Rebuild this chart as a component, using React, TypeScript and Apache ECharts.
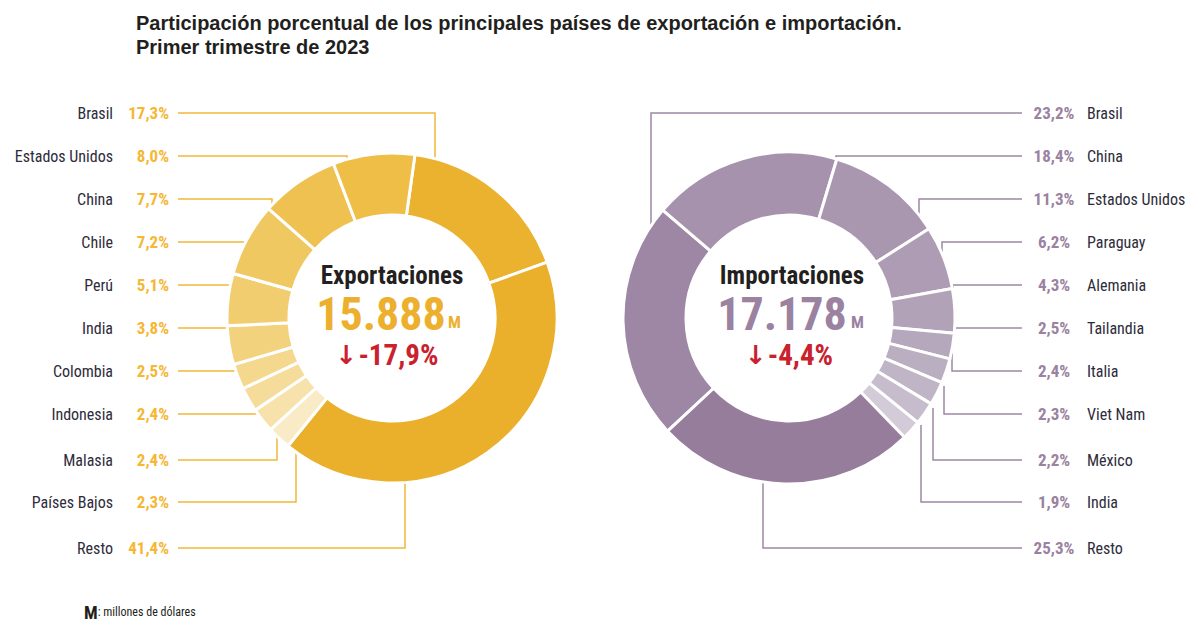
import React, { useEffect, useRef } from "react";
import * as echarts from "echarts";

// ---------- data ----------
const expNames = ["Brasil", "Resto", "Países Bajos", "Malasia", "Indonesia", "Colombia", "India", "Perú", "Chile", "China", "Estados Unidos"];
const expValues = [17.3, 41.4, 2.3, 2.4, 2.4, 2.5, 3.8, 5.1, 7.2, 7.7, 8.0];
const expLabelOrder = ["Brasil", "Estados Unidos", "China", "Chile", "Perú", "India", "Colombia", "Indonesia", "Malasia", "Países Bajos", "Resto"];

const impNames = ["Brasil", "China", "Estados Unidos", "Paraguay", "Alemania", "Tailandia", "Italia", "Viet Nam", "México", "India", "Resto"];
const impValues = [23.2, 18.4, 11.3, 6.2, 4.3, 2.5, 2.4, 2.3, 2.2, 1.9, 25.3];
const impLabelOrder = ["Brasil", "China", "Estados Unidos", "Paraguay", "Alemania", "Tailandia", "Italia", "Viet Nam", "México", "India", "Resto"];

const expTotal = "15.888";
const expChange = "-17,9%";
const impTotal = "17.178";
const impChange = "-4,4%";

// ---------- styles / layout ----------
const expColors = ["#EBB22F", "#EAB02B", "#F8EBC6", "#F6E2AA", "#F5DC9A", "#F4D88D", "#F3D27E", "#F2CD70", "#F0C862", "#EFC150", "#EEBE47"];
const impColors = ["#9E87A4", "#A692AC", "#A996AF", "#AD9CB3", "#B1A2B8", "#B6A8BC", "#BAAEC1", "#C0B5C6", "#C6BCCB", "#D4CBD8", "#977D9C"];
const rowY = [113, 156, 199, 242, 285, 328, 371, 414, 460, 502, 548];
const expBendX = [435, 347, 272, 256, 237, 232, 246, 261, 277, 296, 405];
const expEndY = [162, 175, 213, 242, 297, 340, 382, 414, 433, 448, 482];
const impBendX = [651, 836, 919, 942, 953, 945, 952, 944, 933, 921, 763];
const impEndY = [255, 185, 243, 292, 307, 328, 353, 386, 408, 425, 482];

const NARROW = "'Liberation Sans Narrow', 'Roboto Condensed', 'Arial Narrow', 'Liberation Sans', sans-serif";
const GOLD_TXT = "#F5B734";
const PURPLE_TXT = "#9A82A0";
const NAME_TXT = "#2D2C3A";
const RED = "#C9222E";

const fmtPct = (v: number) => v.toFixed(1).replace(".", ",") + "%";

export default function App() {
  const ref = useRef<HTMLDivElement>(null);
  useEffect(() => {
    document.body.style.margin = "0";
    const chart = echarts.init(ref.current!, null, { renderer: "svg" });

    const changeText = (x: number, val: string) => ({
      type: "text", x, y: 355,
      style: {
        text: `{a|↓}{v|${val}}`, textAlign: "center", textVerticalAlign: "middle",
        rich: {
          a: { fontFamily: "'DejaVu Sans', sans-serif", fontWeight: "bold", fontSize: 26, fill: RED, padding: [0, 1, 0, 0] },
          v: { fontFamily: NARROW, fontWeight: "bold", fontSize: 29, fill: RED },
        },
      },
    });

    const option: any = {
      animation: false,
      backgroundColor: "#ffffff",
      graphic: [
        {
          type: "text", left: 136, top: 11,
          style: {
            text: "Participación porcentual de los principales países de exportación e importación.\nPrimer trimestre de 2023",
            fontFamily: "'Liberation Sans', Arial, sans-serif", fontWeight: "bold", fontSize: 20, lineHeight: 24, fill: "#231F20",
          },
        },
        // exports center
        { type: "text", x: 392, y: 275, style: { text: "Exportaciones", textAlign: "center", textVerticalAlign: "middle", fontFamily: NARROW, fontWeight: "bold", fontSize: 25, fill: "#231F20" } },
        { type: "text", x: 381, y: 314, style: { text: expTotal, textAlign: "center", textVerticalAlign: "middle", fontFamily: NARROW, fontWeight: "bold", fontSize: 46, fill: "#ECB02E" } },
        { type: "text", x: 448, y: 330, style: { text: "M", textAlign: "left", textVerticalAlign: "bottom", fontFamily: NARROW, fontWeight: "bold", fontSize: 17, fill: "#ECB02E" } },
        changeText(387, expChange),
        // imports center
        { type: "text", x: 792, y: 275, style: { text: "Importaciones", textAlign: "center", textVerticalAlign: "middle", fontFamily: NARROW, fontWeight: "bold", fontSize: 25, fill: "#231F20" } },
        { type: "text", x: 782, y: 314, style: { text: impTotal, textAlign: "center", textVerticalAlign: "middle", fontFamily: NARROW, fontWeight: "bold", fontSize: 46, fill: "#9A82A0" } },
        { type: "text", x: 851, y: 330, style: { text: "M", textAlign: "left", textVerticalAlign: "bottom", fontFamily: NARROW, fontWeight: "bold", fontSize: 17, fill: "#9A82A0" } },
        changeText(789, impChange),
        // footnote
        {
          type: "text", x: 84, y: 612,
          style: {
            text: "{b|M}{t|: millones de dólares}", textVerticalAlign: "middle",
            rich: {
              b: { fontFamily: NARROW, fontWeight: "bold", fontSize: 18, fill: "#231F20" },
              t: { fontFamily: NARROW, fontSize: 12, fill: "#231F20" },
            },
          },
        },
      ],
      series: [
        {
          type: "pie",
          center: [392, 318],
          radius: [103, 165],
          startAngle: 82,
          clockwise: true,
          avoidLabelOverlap: false,
          emphasis: { disabled: true },
          itemStyle: { borderColor: "#ffffff", borderWidth: 3 },
          data: expNames.map((n, i) => ({ name: n, value: expValues[i], itemStyle: { color: expColors[i] } })),
          label: {
            show: true,
            position: "outside",
            formatter: (p: any) => `{n|${p.name}}{p|${fmtPct(p.value)}}`,
            rich: {
              n: { fontFamily: NARROW, fontSize: 16, color: NAME_TXT },
              p: { fontFamily: NARROW, fontWeight: "bold", fontSize: 17, color: GOLD_TXT, width: 56, align: "right" },
            },
          },
          labelLine: { show: true, smooth: false, lineStyle: { color: "#EFB93A", width: 1.5 } },
          labelLayout: (p: any) => {
            const r = expLabelOrder.indexOf(expNames[p.dataIndex]);
            const y = rowY[r];
            return {
              x: 169, y, align: "right", verticalAlign: "middle",
              labelLinePoints: [[expBendX[r], expEndY[r]], [expBendX[r], y], [178, y]],
            };
          },
        },
        {
          type: "pie",
          center: [789, 318],
          radius: [103, 166],
          startAngle: 223,
          clockwise: true,
          avoidLabelOverlap: false,
          emphasis: { disabled: true },
          itemStyle: { borderColor: "#ffffff", borderWidth: 3 },
          data: impNames.map((n, i) => ({ name: n, value: impValues[i], itemStyle: { color: impColors[i] } })),
          label: {
            show: true,
            position: "outside",
            formatter: (p: any) => `{p|${fmtPct(p.value)}}{n|${p.name}}`,
            rich: {
              n: { fontFamily: NARROW, fontSize: 16, color: NAME_TXT, padding: [0, 0, 0, 3] },
              p: { fontFamily: NARROW, fontWeight: "bold", fontSize: 17, color: PURPLE_TXT, width: 60, align: "right" },
            },
          },
          labelLine: { show: true, smooth: false, lineStyle: { color: "#9E87A4", width: 1.5 } },
          labelLayout: (p: any) => {
            const r = impLabelOrder.indexOf(impNames[p.dataIndex]);
            const y = rowY[r];
            return {
              x: 1024, y, align: "left", verticalAlign: "middle",
              labelLinePoints: [[impBendX[r], impEndY[r]], [impBendX[r], y], [1022, y]],
            };
          },
        },
      ],
    };
    chart.setOption(option);
    return () => chart.dispose();
  }, []);
  return <div ref={ref} style={{ width: 1196, height: 621 }} />;
}
